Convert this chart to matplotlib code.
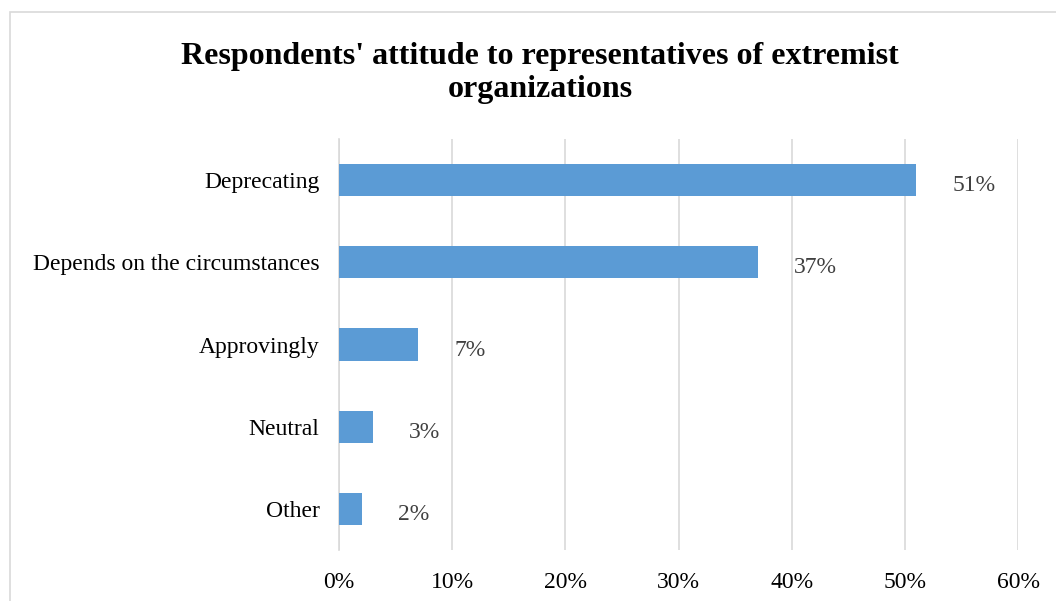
import matplotlib.pyplot as plt
from matplotlib.patches import Rectangle

categories = ["Deprecating", "Depends on the circumstances", "Approvingly", "Neutral", "Other"]
values = [51, 37, 7, 3, 2]
xticks = [0, 10, 20, 30, 40, 50, 60]

plt.rcParams['font.family'] = ['Liberation Serif', 'DejaVu Serif']

fig = plt.figure(figsize=(10.56, 6.01), dpi=100)
fig.patches.append(Rectangle((10 / 1056, -0.1), 1.2, 1 - 12 / 601 + 0.1, transform=fig.transFigure,
                             fill=False, edgecolor="#D9D9D9", linewidth=1.2))
ax = fig.add_axes([339 / 1056, 1 - 550 / 601, (1018 - 339) / 1056, (550 - 139) / 601])

pos = list(range(len(categories)))[::-1]
ax.barh(pos, values, height=0.39, color="#5B9BD5", zorder=3)
for y, v in zip(pos, values):
    ax.annotate(f"{v}%", (v, y), xytext=(26, -4), textcoords="offset points",
                ha="left", va="center", fontsize=17, color="#404040")

ax.set_xlim(0, 60)
ax.set_ylim(-0.5, len(categories) - 0.5)
ax.set_xticks(xticks)
ax.set_xticklabels([f"{t}%" for t in xticks], fontsize=17)
ax.set_yticks(pos)
ax.set_yticklabels(categories, fontsize=17)
ax.tick_params(length=0, pad=14)
ax.tick_params(axis="x", pad=16)
ax.grid(axis="x", color="#D9D9D9", linewidth=1.2, zorder=0)
for s in ["top", "right", "bottom"]:
    ax.spines[s].set_visible(False)
ax.spines["left"].set_color("#D9D9D9")
ax.spines["left"].set_linewidth(1.2)

fig.text(540 / 1056, 1 - 73 / 601, "Respondents' attitude to representatives of extremist\norganizations",
         ha="center", va="center", fontsize=23, fontweight="bold", linespacing=1.2)

fig.savefig("out.png", dpi=100)
